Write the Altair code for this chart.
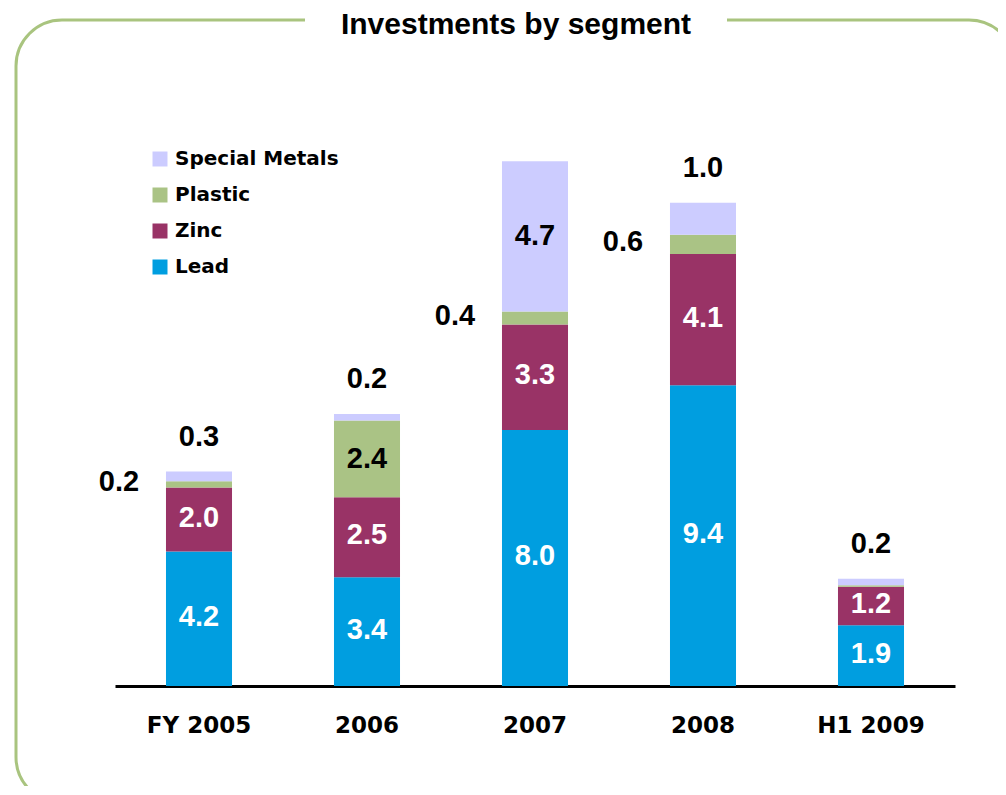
import altair as alt
import pandas as pd

categories = ["FY 2005", "2006", "2007", "2008", "H1 2009"]
series = ["Lead", "Zinc", "Plastic", "Special Metals"]
lead = [4.2, 3.4, 8.0, 9.4, 1.9]
zinc = [2.0, 2.5, 3.3, 4.1, 1.2]
plastic = [0.2, 2.4, 0.4, 0.6, 0.05]
special = [0.3, 0.2, 4.7, 1.0, 0.2]
colors = {"Lead": "#009ee0", "Zinc": "#993366", "Plastic": "#aac385", "Special Metals": "#ccccff"}
title_text = "Investments by segment"

rows = []
for s_idx, (name, vals) in enumerate(zip(series, [lead, zinc, plastic, special])):
    for c, v in zip(categories, vals):
        rows.append({"cat": c, "series": name, "order": s_idx, "value": v})
df = pd.DataFrame(rows)

legend_order = ["Special Metals", "Plastic", "Zinc", "Lead"]

base = alt.Chart(df).transform_stack(
    stack="value", groupby=["cat"], as_=["y0", "y1"], sort=[alt.SortField("order", "ascending")]
).transform_calculate(mid="(datum.y0 + datum.y1) / 2")

xenc = alt.X("cat:N", sort=categories, title=None,
             scale=alt.Scale(paddingInner=0.607, paddingOuter=0.3035),
             axis=alt.Axis(labelAngle=0, domainColor="black", domainWidth=3, ticks=False,
                           labelFont="DejaVu Sans", labelFontWeight="bold", labelFontSize=23,
                           labelColor="black", labelPadding=28, grid=False))
yscale = alt.Scale(domain=[0, 18])

bars = base.mark_bar().encode(
    x=xenc,
    y=alt.Y("y0:Q", scale=yscale, axis=None),
    y2="y1:Q",
    color=alt.Color("series:N",
                    scale=alt.Scale(domain=legend_order, range=[colors[s] for s in legend_order]),
                    legend=alt.Legend(title=None, orient="none", legendX=35, legendY=39,
                                      symbolType="square", symbolSize=225, symbolStrokeWidth=0,
                                      labelFont="DejaVu Sans", labelFontWeight="bold",
                                      labelFontSize=20, labelColor="black", rowPadding=16,
                                      labelOffset=5, labelLimit=400, padding=0)),
)

txt_props = dict(font="Liberation Sans", fontWeight="bold", fontSize=29, baseline="middle")

white_lbl = base.transform_filter(
    "datum.series == 'Lead' || datum.series == 'Zinc'"
).mark_text(color="white", dy=-2, **txt_props).encode(
    x=alt.X("cat:N", sort=categories), y=alt.Y("mid:Q", scale=yscale),
    text=alt.Text("value:Q", format=".1f"))

black_in = base.transform_filter(
    "(datum.series == 'Plastic' && datum.value >= 1) || (datum.series == 'Special Metals' && datum.value >= 2)"
).mark_text(color="black", **txt_props).encode(
    x=alt.X("cat:N", sort=categories), y=alt.Y("mid:Q", scale=yscale),
    text=alt.Text("value:Q", format=".1f"))

plastic_left = base.transform_filter(
    "datum.series == 'Plastic' && datum.value < 1 && datum.value >= 0.1"
).mark_text(color="black", dx=-80, dy=-2, **txt_props).encode(
    x=alt.X("cat:N", sort=categories), y=alt.Y("mid:Q", scale=yscale),
    text=alt.Text("value:Q", format=".1f"))

special_top = base.transform_filter(
    "datum.series == 'Special Metals' && datum.value < 2"
).mark_text(color="black", dy=-35, **txt_props).encode(
    x=alt.X("cat:N", sort=categories), y=alt.Y("y1:Q", scale=yscale),
    text=alt.Text("value:Q", format=".1f"))

deco = alt.Chart(pd.DataFrame({"t": [title_text]}))
border = deco.mark_rect(fill="white", fillOpacity=0, stroke="#a9c47f", strokeWidth=3,
                        cornerRadius=46).encode(
    x=alt.value(-99), x2=alt.value(900), y=alt.value(-90), y2=alt.value(693))
title_bg = deco.mark_rect(fill="white").encode(
    x=alt.value(190), x2=alt.value(612), y=alt.value(-100), y2=alt.value(-80))
title = deco.mark_text(font="Liberation Sans", fontWeight="bold", fontSize=30,
                       baseline="alphabetic", align="center", color="black").encode(
    x=alt.value(401), y=alt.value(-76), text="t:N")

chart = alt.layer(border, title_bg, title, bars, white_lbl, black_in, plastic_left, special_top).properties(
    width=840, height=576,
    autosize=alt.AutoSizeParams(type="none"),
    padding={"left": 107, "top": 102, "right": 43, "bottom": 100},
).configure_view(stroke=None)

chart.save("out.html", embed_options={"renderer": "svg", "actions": False})
